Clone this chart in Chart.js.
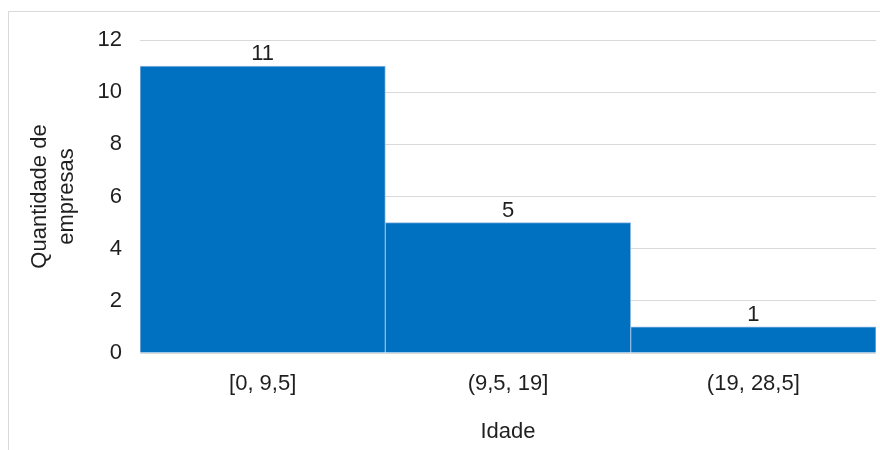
<!DOCTYPE html>
<html>
<head>
<meta charset="utf-8">
<script src="https://cdn.jsdelivr.net/npm/chart.js@4/dist/chart.umd.min.js"></script>
<style>
  html, body { margin: 0; padding: 0; background: #fff; overflow: hidden; }
  #frame { position: absolute; left: 8px; top: 11px; width: 900px; height: 470px; border: 1px solid #d9d9d9; box-sizing: border-box; }
  #wrap { position: absolute; left: 0; top: 0; width: 880px; height: 450px; }
</style>
</head>
<body>
<div id="frame"></div>
<div id="wrap"><canvas id="chart" width="880" height="450"></canvas></div>
<script>
// Faixas etárias das empresas e quantidade em cada faixa
const categories = ['[0, 9,5]', '(9,5, 19]', '(19, 28,5]'];
const counts = [11, 5, 1];
const yTicks = [0, 2, 4, 6, 8, 10, 12];

const textColor = '#1f1f1f';
const fontFamily = '"Liberation Sans", Arial, sans-serif';

// Rótulo com o valor acima de cada barra
const valueLabels = {
  id: 'valueLabels',
  afterDatasetsDraw(chart) {
    const { ctx } = chart;
    const meta = chart.getDatasetMeta(0);
    ctx.save();
    ctx.font = '22px ' + fontFamily;
    ctx.fillStyle = textColor;
    ctx.textAlign = 'center';
    ctx.textBaseline = 'alphabetic';
    meta.data.forEach((bar, i) => {
      ctx.fillText(String(counts[i]), bar.x, bar.y - 6);
    });
    ctx.restore();
  }
};

new Chart(document.getElementById('chart'), {
  type: 'bar',
  data: {
    labels: categories,
    datasets: [{
      data: counts,
      backgroundColor: '#0070C0',
      borderColor: '#8DB8E2',
      borderWidth: 1,
      barPercentage: 1,
      categoryPercentage: 1
    }]
  },
  options: {
    responsive: false,
    animation: false,
    layout: { padding: { left: 0, right: 4, top: 40, bottom: 0 } },
    plugins: { legend: { display: false }, tooltip: { enabled: false } },
    scales: {
      x: {
        grid: { display: false, drawTicks: false },
        border: { display: false },
        ticks: { color: textColor, font: { family: fontFamily, size: 22 }, padding: 18, maxRotation: 0 },
        title: {
          display: true,
          text: 'Idade',
          color: textColor,
          font: { family: fontFamily, size: 22 },
          padding: { top: 0, bottom: 5 }
        },
        afterFit(scale) { scale.height = 97; }
      },
      y: {
        min: 0,
        max: 12,
        afterBuildTicks(scale) { scale.ticks = yTicks.map(v => ({ value: v })); },
        grid: { color: '#d9d9d9', lineWidth: 1, drawTicks: false },
        border: { display: false },
        ticks: { color: textColor, font: { family: fontFamily, size: 22 }, padding: 18 },
        title: {
          display: true,
          text: ['Quantidade de', 'empresas'],
          color: textColor,
          font: { family: fontFamily, size: 22, lineHeight: 1.2 },
          padding: { top: 27, bottom: 0 }
        },
        afterFit(scale) { scale.width = 140; }
      }
    }
  },
  plugins: [valueLabels]
});
</script>
</body>
</html>
